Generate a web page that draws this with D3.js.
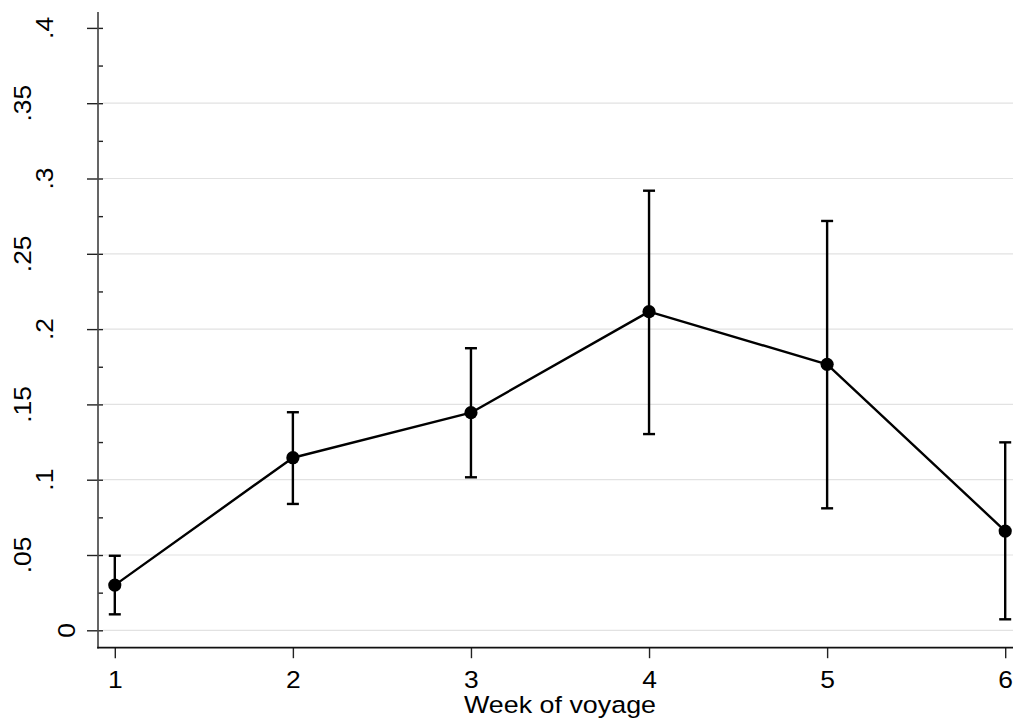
<!DOCTYPE html>
<html>
<head>
<meta charset="utf-8">
<script src="https://cdn.jsdelivr.net/npm/d3@7"></script>
<style>
  html, body { margin: 0; padding: 0; background: #fff; }
  svg { display: block; }
  text { font-family: "Liberation Sans", Arial, Helvetica, sans-serif; fill: #000; }
</style>
</head>
<body>
<svg id="chart" width="1013" height="719"></svg>
<script>
// Weekly estimates with confidence intervals
const weeks = [1, 2, 3, 4, 5, 6];
const estimate = [0.0300, 0.1146, 0.1445, 0.2116, 0.1766, 0.0659];
const ciLower = [0.0106, 0.0839, 0.1016, 0.1303, 0.0810, 0.0073];
const ciUpper = [0.0495, 0.1448, 0.1873, 0.2919, 0.2718, 0.1248];

// Axis ticks
const yMajorTicks = [0, 0.05, 0.1, 0.15, 0.2, 0.25, 0.3, 0.35, 0.4];
const yTickLabels = ["0", ".05", ".1", ".15", ".2", ".25", ".3", ".35", ".4"];
const yMinorTicks = [0.025, 0.075, 0.125, 0.175, 0.225, 0.275, 0.325, 0.375];
const xTickLabels = ["1", "2", "3", "4", "5", "6"];
const xTitle = "Week of voyage";

const svg = d3.select("#chart");

const x = d3.scaleLinear().domain([1, 6]).range([114.8, 1005.2]);
const y = d3.scaleLinear().domain([0, 0.4]).range([630.3, 27.9]);

const axisX = 98;        // vertical axis line
const axisY = 647.7;     // horizontal axis line
const plotRight = 1013;
const labelSize = "24px";
const labelStretch = 1.1; // slightly wide lettering

// Gridlines (none at the top tick)
svg.append("g")
  .selectAll("line")
  .data(yMajorTicks.filter(v => v < 0.4))
  .join("line")
  .attr("x1", 103).attr("x2", plotRight)
  .attr("y1", d => y(d)).attr("y2", d => y(d))
  .attr("stroke", "#e2e2e2")
  .attr("stroke-width", 1.2);

// Y axis: major ticks cross the axis line, minor ticks sit to its right
const yMajor = svg.append("g")
  .attr("transform", "translate(103,0)")
  .call(d3.axisLeft(y).tickValues(yMajorTicks).tickSizeInner(16).tickSizeOuter(0).tickFormat(""));
yMajor.select(".domain").remove();
yMajor.selectAll(".tick line").attr("stroke", "#222").attr("stroke-width", 1.4);

const yMinor = svg.append("g")
  .attr("transform", "translate(103,0)")
  .call(d3.axisLeft(y).tickValues(yMinorTicks).tickSizeInner(5).tickSizeOuter(0).tickFormat(""));
yMinor.select(".domain").remove();
yMinor.selectAll(".tick line").attr("stroke", "#222").attr("stroke-width", 1.4);

svg.append("line")
  .attr("x1", axisX).attr("x2", axisX)
  .attr("y1", 12).attr("y2", axisY + 0.7)
  .attr("stroke", "#4a4a4a").attr("stroke-width", 1.7);

// Rotated y tick labels
svg.append("g")
  .selectAll("text")
  .data(yMajorTicks.map((v, i) => ({ v, label: yTickLabels[i] })))
  .join("text")
  .attr("transform", d => `translate(${97 - 22 * d.label.length},${y(d.v)}) rotate(-90) scale(${labelStretch},1)`)
  .attr("text-anchor", "middle")
  .style("font-size", labelSize)
  .text(d => d.label);

// X axis
const xAxis = svg.append("g")
  .attr("transform", `translate(0,${axisY})`)
  .call(d3.axisBottom(x).tickValues(weeks).tickSizeInner(10.5).tickSizeOuter(0)
    .tickFormat((d, i) => xTickLabels[i]));
xAxis.select(".domain").remove();
xAxis.selectAll(".tick line").attr("stroke", "#222").attr("stroke-width", 1.4);
xAxis.selectAll(".tick text")
  .attr("y", 0).attr("dy", 0)
  .attr("transform", `translate(0,40.5) scale(${labelStretch},1)`)
  .attr("fill", "#000")
  .style("font-size", labelSize)
  .style("font-family", "\"Liberation Sans\", Arial, Helvetica, sans-serif");

svg.append("line")
  .attr("x1", axisX - 0.8).attr("x2", plotRight)
  .attr("y1", axisY).attr("y2", axisY)
  .attr("stroke", "#111").attr("stroke-width", 1.7);

svg.append("text")
  .attr("x", (x(1) + x(6)) / 2)
  .attr("y", 713)
  .attr("text-anchor", "middle")
  .attr("textLength", 192)
  .attr("lengthAdjust", "spacingAndGlyphs")
  .style("font-size", "24.5px")
  .text(xTitle);

// Confidence interval bars with caps
const rows = weeks.map((w, i) => ({ w, est: estimate[i], lo: ciLower[i], hi: ciUpper[i] }));
const bars = svg.append("g").attr("stroke", "#000").attr("stroke-width", 2.4).attr("fill", "none");
bars.selectAll("line.stem").data(rows).join("line").attr("class", "stem")
  .attr("x1", d => x(d.w)).attr("x2", d => x(d.w))
  .attr("y1", d => y(d.lo)).attr("y2", d => y(d.hi));
bars.selectAll("line.capHi").data(rows).join("line").attr("class", "capHi")
  .attr("x1", d => x(d.w) - 6).attr("x2", d => x(d.w) + 6)
  .attr("y1", d => y(d.hi)).attr("y2", d => y(d.hi));
bars.selectAll("line.capLo").data(rows).join("line").attr("class", "capLo")
  .attr("x1", d => x(d.w) - 6).attr("x2", d => x(d.w) + 6)
  .attr("y1", d => y(d.lo)).attr("y2", d => y(d.lo));

// Connecting line
svg.append("path")
  .datum(rows)
  .attr("fill", "none")
  .attr("stroke", "#000")
  .attr("stroke-width", 2.4)
  .attr("stroke-linejoin", "round")
  .attr("d", d3.line().x(d => x(d.w)).y(d => y(d.est)));

// Point markers
svg.append("g")
  .selectAll("circle")
  .data(rows)
  .join("circle")
  .attr("cx", d => x(d.w))
  .attr("cy", d => y(d.est))
  .attr("r", 6.6)
  .attr("fill", "#000");
</script>
</body>
</html>
